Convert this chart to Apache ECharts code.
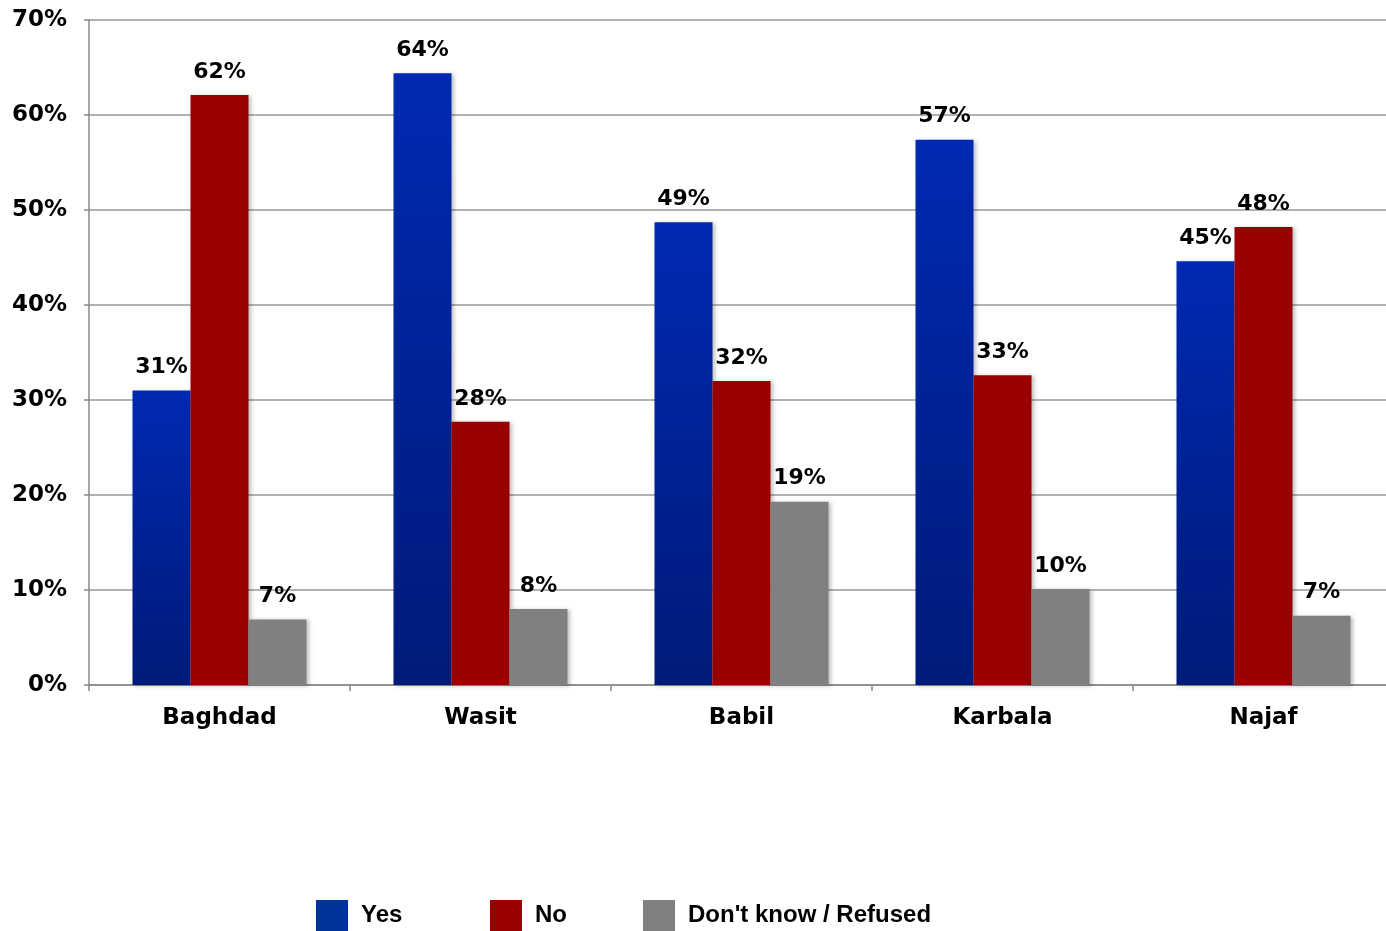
<!DOCTYPE html>
<html><head><meta charset="utf-8">
<script src="https://cdn.jsdelivr.net/npm/echarts@6/dist/echarts.min.js"></script>
<style>html,body{margin:0;padding:0;background:#fff}#c{width:1386px;height:931px}</style>
</head><body><div id="c"></div>
<script>
const categories = ['Baghdad', 'Wasit', 'Babil', 'Karbala', 'Najaf'];
const yesValues = [31.0, 64.4, 48.7, 57.4, 44.6];
const noValues = [62.1, 27.7, 32.0, 32.6, 48.2];
const dkValues = [6.9, 8.0, 19.3, 10.1, 7.3];
const seriesNames = ['Yes', 'No', "Don't know / Refused"];
const yTicks = [0, 10, 20, 30, 40, 50, 60, 70];

const font = 'DejaVu Sans, Arial, sans-serif';
const legendFont = 'Liberation Sans, Arial, sans-serif';
const chart = echarts.init(document.getElementById('c'));
const yesGrad = new echarts.graphic.LinearGradient(0, 0, 0, 1, [
  {offset: 0, color: '#0029B2'}, {offset: 1, color: '#001A78'}]);
const label = {
  show: true, position: 'top', distance: 12, color: '#000',
  fontFamily: font, fontWeight: 'bold', fontSize: 22,
  formatter: p => Math.round(p.value) + '%'
};
const shadow = {shadowColor: 'rgba(0,0,0,0.25)', shadowBlur: 4, shadowOffsetX: 2, shadowOffsetY: 1};
const legendColors = ['#003399', '#990000', '#808080'];
function legendAt(i, left) {
  return {
    data: [{name: seriesNames[i], itemStyle: {color: legendColors[i]}}],
    left: left, top: 900, padding: 0, itemWidth: 32, itemHeight: 31,
    icon: 'rect', itemGap: 0,
    textStyle: {fontFamily: legendFont, fontWeight: 'bold', fontSize: 24, color: '#000', padding: [6, 0, 0, 8]}
  };
}
chart.setOption({
  animation: false,
  legend: [legendAt(0, 316), legendAt(1, 490), legendAt(2, 643)],
  grid: {left: 89, top: 20, width: 1305, height: 665, containLabel: false, outerBoundsMode: 'none'},
  xAxis: {
    type: 'category', data: categories,
    axisLine: {lineStyle: {color: '#888', width: 1.5}},
    axisTick: {show: true, length: 6, lineStyle: {color: '#888', width: 1.5}},
    axisLabel: {color: '#000', fontFamily: font, fontWeight: 'bold', fontSize: 23, margin: 22}
  },
  yAxis: {
    type: 'value', min: yTicks[0], max: yTicks[yTicks.length - 1], interval: 10,
    axisLine: {show: true, lineStyle: {color: '#888', width: 1.5}},
    axisTick: {show: true, length: 5, lineStyle: {color: '#888', width: 1.5}},
    splitLine: {lineStyle: {color: '#999', width: 1.5}},
    axisLabel: {color: '#000', fontFamily: font, fontWeight: 'bold', fontSize: 23, margin: 22,
      formatter: v => v + '%'}
  },
  series: [
    {name: seriesNames[0], type: 'bar', data: yesValues, barWidth: 58, barGap: '0%',
     itemStyle: Object.assign({color: yesGrad}, shadow), label: label},
    {name: seriesNames[1], type: 'bar', data: noValues, barWidth: 58, barGap: '0%',
     itemStyle: Object.assign({color: '#990000'}, shadow), label: label},
    {name: seriesNames[2], type: 'bar', data: dkValues, barWidth: 58, barGap: '0%',
     itemStyle: Object.assign({color: '#808080'}, shadow), label: label}
  ]
});
</script></body></html>
